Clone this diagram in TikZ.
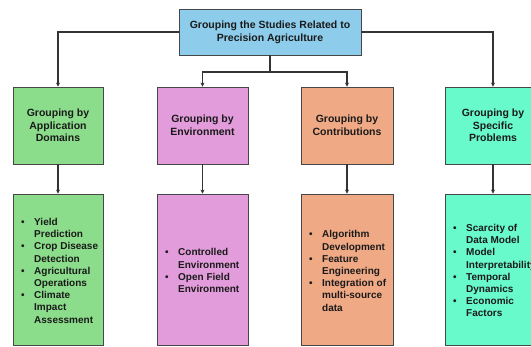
\documentclass[tikz,border=0pt]{standalone}
\usepackage{fontspec}
\setmainfont{Liberation Sans}
\usetikzlibrary{arrows.meta}
\definecolor{cblue}{HTML}{8DCDEB}
\definecolor{cgreen}{HTML}{8BDD8B}
\definecolor{cpink}{HTML}{E29CDB}
\definecolor{corange}{HTML}{F0A985}
\definecolor{ccyan}{HTML}{68FACB}
\definecolor{cline}{HTML}{333333}
\definecolor{ctext}{HTML}{1A1A1A}
\tikzset{
  box/.style={draw=cline!90, line width=0.8pt, inner sep=0pt, align=center,
    text=ctext, font=\fontsize{10.5}{12.7}\selectfont\bfseries},
  listtext/.style={anchor=north west, inner sep=0pt, text=ctext,
    font=\fontsize{10}{12.2}\selectfont\bfseries},
  conn/.style={draw=cline, line width=1.3pt},
  arr/.style={conn, -{Stealth[length=4pt,width=4pt]}}
}
\newenvironment{blist}{\begin{tabular}{@{}p{13pt}@{}l@{}}}{\end{tabular}}
\begin{document}
\begin{tikzpicture}[x=1pt,y=-1pt]
\useasboundingbox (0,0) rectangle (531,347);
\clip (0,0) rectangle (531,347);
\fill[white] (0,0) rectangle (531,347);

% top
\node[box, fill=cblue, minimum width=182pt, minimum height=46pt] (top) at (270,32)
  {Grouping the Studies Related to\\Precision Agriculture};

% level 2
\node[box, fill=cgreen, minimum width=90pt, minimum height=77pt] (g2) at (58,125.5)
  {Grouping by\\Application\\Domains};
\node[box, fill=cpink, minimum width=91pt, minimum height=77pt] (p2) at (202.5,125.5)
  {Grouping by\\Environment};
\node[box, fill=corange, minimum width=92pt, minimum height=77pt] (o2) at (347,125.5)
  {Grouping by\\Contributions};
\node[box, fill=ccyan, minimum width=96pt, minimum height=77pt] (c2) at (493,125.5)
  {Grouping by\\Specific\\Problems};

% level 3
\node[box, fill=cgreen, minimum width=90pt, minimum height=151pt] (g3) at (58,269.5) {};
\node[box, fill=cpink, minimum width=91pt, minimum height=151pt] (p3) at (202.5,269.5) {};
\node[box, fill=corange, minimum width=92pt, minimum height=151pt] (o3) at (347,269.5) {};
\node[box, fill=ccyan, minimum width=96pt, minimum height=151pt] (c3) at (493,269.5) {};

% lists
\node[listtext] (gl) at (21,216.8) {\begin{blist}
\textbullet & Yield\\ & Prediction\\
\textbullet & Crop Disease\\ & Detection\\
\textbullet & Agricultural\\ & Operations\\
\textbullet & Climate\\ & Impact\\ & Assessment
\end{blist}};
\node[listtext] (pl) at (165,247.1) {\begin{blist}
\textbullet & Controlled\\ & Environment\\
\textbullet & Open Field\\ & Environment
\end{blist}};
\node[listtext] (ol) at (309,229.1) {\begin{blist}
\textbullet & Algorithm\\ & Development\\
\textbullet & Feature\\ & Engineering\\
\textbullet & Integration of\\ & multi-source\\ & data
\end{blist}};
\node[listtext] (cl) at (453,222.8) {\begin{blist}
\textbullet & Scarcity of\\ & Data Model\\
\textbullet & Model\\ & Interpretability\\
\textbullet & Temporal\\ & Dynamics\\
\textbullet & Economic\\ & Factors
\end{blist}};

% connectors
\coordinate (split) at (270,72);
\draw[arr] (top.west) -| (g2.north);
\draw[arr] (top.east) -| (c2.north);
\draw[conn] (top.south) -- (split);
\draw[arr] (split) -| (p2.north);
\draw[arr] (split) -| (o2.north);
\draw[arr] (g2.south) -- (g3.north);
\draw[arr] (p2.south) -- (p3.north);
\draw[arr] (o2.south) -- (o3.north);
\draw[arr] (c2.south) -- (c3.north);
\end{tikzpicture}
\end{document}
